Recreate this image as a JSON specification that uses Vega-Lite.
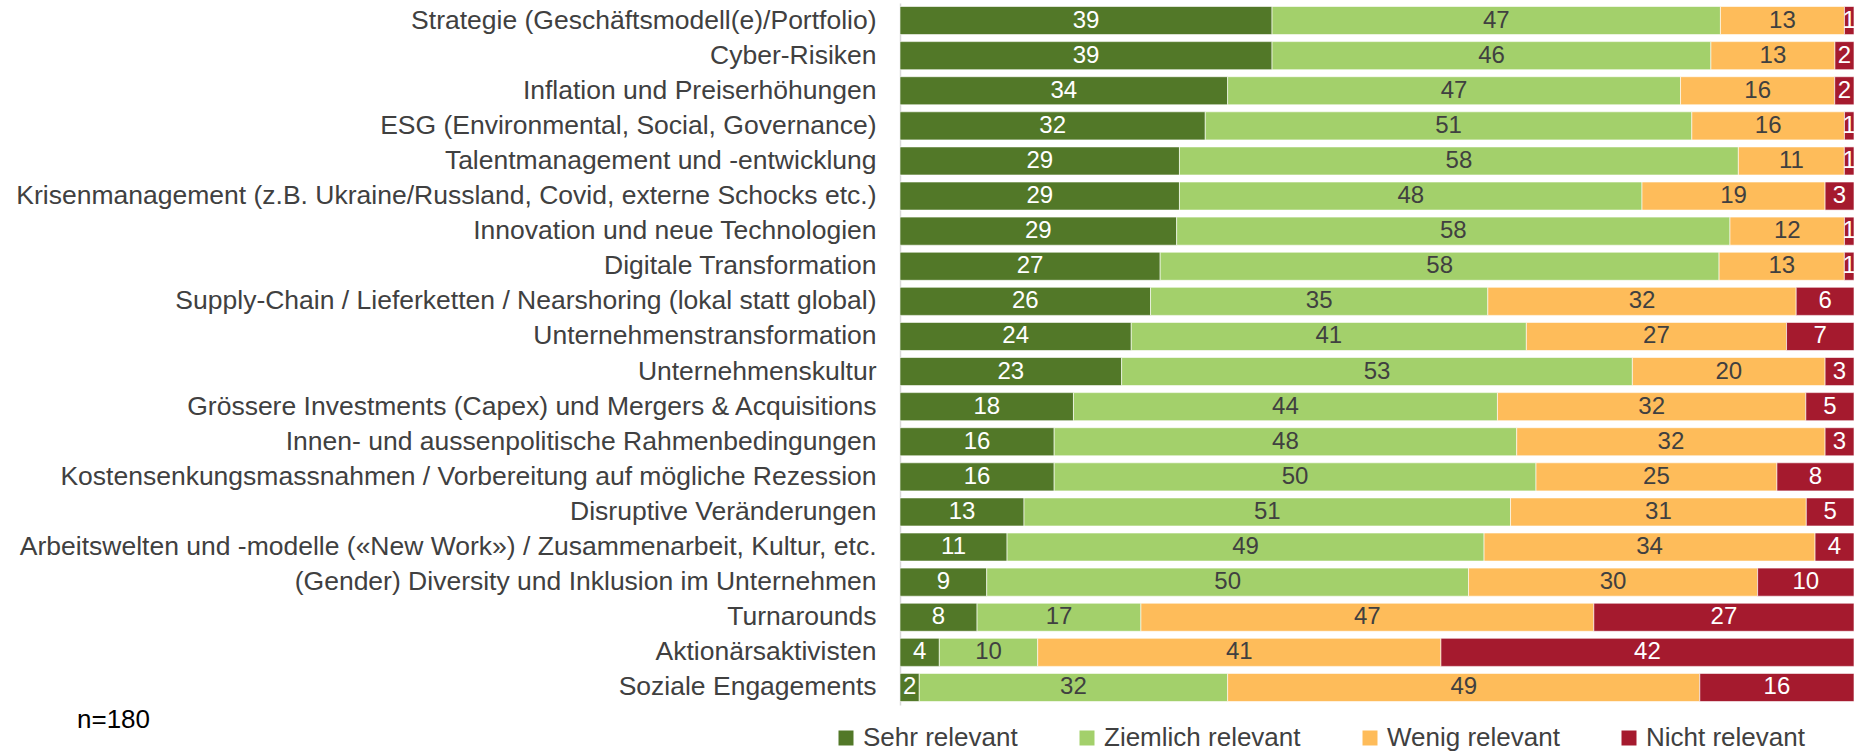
{
"$schema": "https://vega.github.io/schema/vega-lite/v6.json",
"width": 954, "height": 702,
"autosize": {"type": "none"},
"padding": {"left": 900, "top": 3, "right": 13, "bottom": 46},
"config": {"font": "Liberation Sans", "view": {"stroke": null}},
"title": {"text": "n=180", "orient": "bottom", "anchor": "start", "frame": "group", "dx": -823, "dy": -44, "offset": 0, "fontSize": 26, "fontWeight": "normal", "color": "#000000", "font": "Liberation Sans"},
"data": {"values": [
{"topic":"Strategie (Geschäftsmodell(e)/Portfolio)","cat":"Sehr relevant","k":1,"v":39},
{"topic":"Strategie (Geschäftsmodell(e)/Portfolio)","cat":"Ziemlich relevant","k":2,"v":47},
{"topic":"Strategie (Geschäftsmodell(e)/Portfolio)","cat":"Wenig relevant","k":3,"v":13},
{"topic":"Strategie (Geschäftsmodell(e)/Portfolio)","cat":"Nicht relevant","k":4,"v":1},
{"topic":"Cyber-Risiken","cat":"Sehr relevant","k":1,"v":39},
{"topic":"Cyber-Risiken","cat":"Ziemlich relevant","k":2,"v":46},
{"topic":"Cyber-Risiken","cat":"Wenig relevant","k":3,"v":13},
{"topic":"Cyber-Risiken","cat":"Nicht relevant","k":4,"v":2},
{"topic":"Inflation und Preiserhöhungen","cat":"Sehr relevant","k":1,"v":34},
{"topic":"Inflation und Preiserhöhungen","cat":"Ziemlich relevant","k":2,"v":47},
{"topic":"Inflation und Preiserhöhungen","cat":"Wenig relevant","k":3,"v":16},
{"topic":"Inflation und Preiserhöhungen","cat":"Nicht relevant","k":4,"v":2},
{"topic":"ESG (Environmental, Social, Governance)","cat":"Sehr relevant","k":1,"v":32},
{"topic":"ESG (Environmental, Social, Governance)","cat":"Ziemlich relevant","k":2,"v":51},
{"topic":"ESG (Environmental, Social, Governance)","cat":"Wenig relevant","k":3,"v":16},
{"topic":"ESG (Environmental, Social, Governance)","cat":"Nicht relevant","k":4,"v":1},
{"topic":"Talentmanagement und -entwicklung","cat":"Sehr relevant","k":1,"v":29},
{"topic":"Talentmanagement und -entwicklung","cat":"Ziemlich relevant","k":2,"v":58},
{"topic":"Talentmanagement und -entwicklung","cat":"Wenig relevant","k":3,"v":11},
{"topic":"Talentmanagement und -entwicklung","cat":"Nicht relevant","k":4,"v":1},
{"topic":"Krisenmanagement (z.B. Ukraine/Russland, Covid, externe Schocks etc.)","cat":"Sehr relevant","k":1,"v":29},
{"topic":"Krisenmanagement (z.B. Ukraine/Russland, Covid, externe Schocks etc.)","cat":"Ziemlich relevant","k":2,"v":48},
{"topic":"Krisenmanagement (z.B. Ukraine/Russland, Covid, externe Schocks etc.)","cat":"Wenig relevant","k":3,"v":19},
{"topic":"Krisenmanagement (z.B. Ukraine/Russland, Covid, externe Schocks etc.)","cat":"Nicht relevant","k":4,"v":3},
{"topic":"Innovation und neue Technologien","cat":"Sehr relevant","k":1,"v":29},
{"topic":"Innovation und neue Technologien","cat":"Ziemlich relevant","k":2,"v":58},
{"topic":"Innovation und neue Technologien","cat":"Wenig relevant","k":3,"v":12},
{"topic":"Innovation und neue Technologien","cat":"Nicht relevant","k":4,"v":1},
{"topic":"Digitale Transformation","cat":"Sehr relevant","k":1,"v":27},
{"topic":"Digitale Transformation","cat":"Ziemlich relevant","k":2,"v":58},
{"topic":"Digitale Transformation","cat":"Wenig relevant","k":3,"v":13},
{"topic":"Digitale Transformation","cat":"Nicht relevant","k":4,"v":1},
{"topic":"Supply-Chain / Lieferketten / Nearshoring (lokal statt global)","cat":"Sehr relevant","k":1,"v":26},
{"topic":"Supply-Chain / Lieferketten / Nearshoring (lokal statt global)","cat":"Ziemlich relevant","k":2,"v":35},
{"topic":"Supply-Chain / Lieferketten / Nearshoring (lokal statt global)","cat":"Wenig relevant","k":3,"v":32},
{"topic":"Supply-Chain / Lieferketten / Nearshoring (lokal statt global)","cat":"Nicht relevant","k":4,"v":6},
{"topic":"Unternehmenstransformation","cat":"Sehr relevant","k":1,"v":24},
{"topic":"Unternehmenstransformation","cat":"Ziemlich relevant","k":2,"v":41},
{"topic":"Unternehmenstransformation","cat":"Wenig relevant","k":3,"v":27},
{"topic":"Unternehmenstransformation","cat":"Nicht relevant","k":4,"v":7},
{"topic":"Unternehmenskultur","cat":"Sehr relevant","k":1,"v":23},
{"topic":"Unternehmenskultur","cat":"Ziemlich relevant","k":2,"v":53},
{"topic":"Unternehmenskultur","cat":"Wenig relevant","k":3,"v":20},
{"topic":"Unternehmenskultur","cat":"Nicht relevant","k":4,"v":3},
{"topic":"Grössere Investments (Capex) und Mergers & Acquisitions","cat":"Sehr relevant","k":1,"v":18},
{"topic":"Grössere Investments (Capex) und Mergers & Acquisitions","cat":"Ziemlich relevant","k":2,"v":44},
{"topic":"Grössere Investments (Capex) und Mergers & Acquisitions","cat":"Wenig relevant","k":3,"v":32},
{"topic":"Grössere Investments (Capex) und Mergers & Acquisitions","cat":"Nicht relevant","k":4,"v":5},
{"topic":"Innen- und aussenpolitische Rahmenbedingungen","cat":"Sehr relevant","k":1,"v":16},
{"topic":"Innen- und aussenpolitische Rahmenbedingungen","cat":"Ziemlich relevant","k":2,"v":48},
{"topic":"Innen- und aussenpolitische Rahmenbedingungen","cat":"Wenig relevant","k":3,"v":32},
{"topic":"Innen- und aussenpolitische Rahmenbedingungen","cat":"Nicht relevant","k":4,"v":3},
{"topic":"Kostensenkungsmassnahmen / Vorbereitung auf mögliche Rezession","cat":"Sehr relevant","k":1,"v":16},
{"topic":"Kostensenkungsmassnahmen / Vorbereitung auf mögliche Rezession","cat":"Ziemlich relevant","k":2,"v":50},
{"topic":"Kostensenkungsmassnahmen / Vorbereitung auf mögliche Rezession","cat":"Wenig relevant","k":3,"v":25},
{"topic":"Kostensenkungsmassnahmen / Vorbereitung auf mögliche Rezession","cat":"Nicht relevant","k":4,"v":8},
{"topic":"Disruptive Veränderungen","cat":"Sehr relevant","k":1,"v":13},
{"topic":"Disruptive Veränderungen","cat":"Ziemlich relevant","k":2,"v":51},
{"topic":"Disruptive Veränderungen","cat":"Wenig relevant","k":3,"v":31},
{"topic":"Disruptive Veränderungen","cat":"Nicht relevant","k":4,"v":5},
{"topic":"Arbeitswelten und -modelle («New Work») / Zusammenarbeit, Kultur, etc.","cat":"Sehr relevant","k":1,"v":11},
{"topic":"Arbeitswelten und -modelle («New Work») / Zusammenarbeit, Kultur, etc.","cat":"Ziemlich relevant","k":2,"v":49},
{"topic":"Arbeitswelten und -modelle («New Work») / Zusammenarbeit, Kultur, etc.","cat":"Wenig relevant","k":3,"v":34},
{"topic":"Arbeitswelten und -modelle («New Work») / Zusammenarbeit, Kultur, etc.","cat":"Nicht relevant","k":4,"v":4},
{"topic":"(Gender) Diversity und Inklusion im Unternehmen","cat":"Sehr relevant","k":1,"v":9},
{"topic":"(Gender) Diversity und Inklusion im Unternehmen","cat":"Ziemlich relevant","k":2,"v":50},
{"topic":"(Gender) Diversity und Inklusion im Unternehmen","cat":"Wenig relevant","k":3,"v":30},
{"topic":"(Gender) Diversity und Inklusion im Unternehmen","cat":"Nicht relevant","k":4,"v":10},
{"topic":"Turnarounds ","cat":"Sehr relevant","k":1,"v":8},
{"topic":"Turnarounds ","cat":"Ziemlich relevant","k":2,"v":17},
{"topic":"Turnarounds ","cat":"Wenig relevant","k":3,"v":47},
{"topic":"Turnarounds ","cat":"Nicht relevant","k":4,"v":27},
{"topic":"Aktionärsaktivisten","cat":"Sehr relevant","k":1,"v":4},
{"topic":"Aktionärsaktivisten","cat":"Ziemlich relevant","k":2,"v":10},
{"topic":"Aktionärsaktivisten","cat":"Wenig relevant","k":3,"v":41},
{"topic":"Aktionärsaktivisten","cat":"Nicht relevant","k":4,"v":42},
{"topic":"Soziale Engagements","cat":"Sehr relevant","k":1,"v":2},
{"topic":"Soziale Engagements","cat":"Ziemlich relevant","k":2,"v":32},
{"topic":"Soziale Engagements","cat":"Wenig relevant","k":3,"v":49},
{"topic":"Soziale Engagements","cat":"Nicht relevant","k":4,"v":16}
]},
"transform": [
  {"stack": "v", "groupby": ["topic"], "sort": [{"field": "k", "order": "ascending"}], "offset": "normalize", "as": ["x0", "x1"]},
  {"calculate": "(datum.x0 + datum.x1) / 2", "as": "xm"}
],
"encoding": {
  "y": {"field": "topic", "type": "nominal", "sort": null, "scale": {"paddingInner": 0.2, "paddingOuter": 0.1},
        "axis": {"title": null, "ticks": false, "domain": true, "domainColor": "#d9d9d9", "domainWidth": 1.5, "labelFontSize": 26.5, "labelColor": "#404040", "labelPadding": 24, "labelLimit": 2000, "labelFont": "Liberation Sans"}}
},
"layer": [
  {"mark": {"type": "bar", "stroke": "white", "strokeWidth": 0.6},
   "encoding": {
     "x": {"field": "x0", "type": "quantitative", "scale": {"domain": [0, 1], "nice": false}, "axis": null},
     "x2": {"field": "x1"},
     "color": {"field": "cat", "type": "nominal",
       "scale": {"domain": ["Sehr relevant", "Ziemlich relevant", "Wenig relevant", "Nicht relevant"], "range": ["#527828", "#A3D06B", "#FEBC5A", "#A51A2E"]},
       "legend": {"title": null, "orient": "none", "legendX": -67, "legendY": 722, "direction": "horizontal", "symbolType": "square", "symbolSize": 225, "symbolStrokeWidth": 0, "labelFontSize": 26, "labelColor": "#404040", "labelFont": "Liberation Sans", "labelOffset": 4, "columnPadding": 56, "labelLimit": 400, "padding": 0}}
   }},
  {"transform": [{"filter": {"field": "cat", "oneOf": ["Sehr relevant", "Nicht relevant"]}}],
   "mark": {"type": "text", "color": "white", "fontSize": 24, "font": "Liberation Sans", "baseline": "middle"},
   "encoding": {"x": {"field": "xm", "type": "quantitative"}, "text": {"field": "v", "type": "quantitative"}}},
  {"transform": [{"filter": {"field": "cat", "oneOf": ["Ziemlich relevant", "Wenig relevant"]}}],
   "mark": {"type": "text", "color": "#404040", "fontSize": 24, "font": "Liberation Sans", "baseline": "middle"},
   "encoding": {"x": {"field": "xm", "type": "quantitative"}, "text": {"field": "v", "type": "quantitative"}}}
]
}
